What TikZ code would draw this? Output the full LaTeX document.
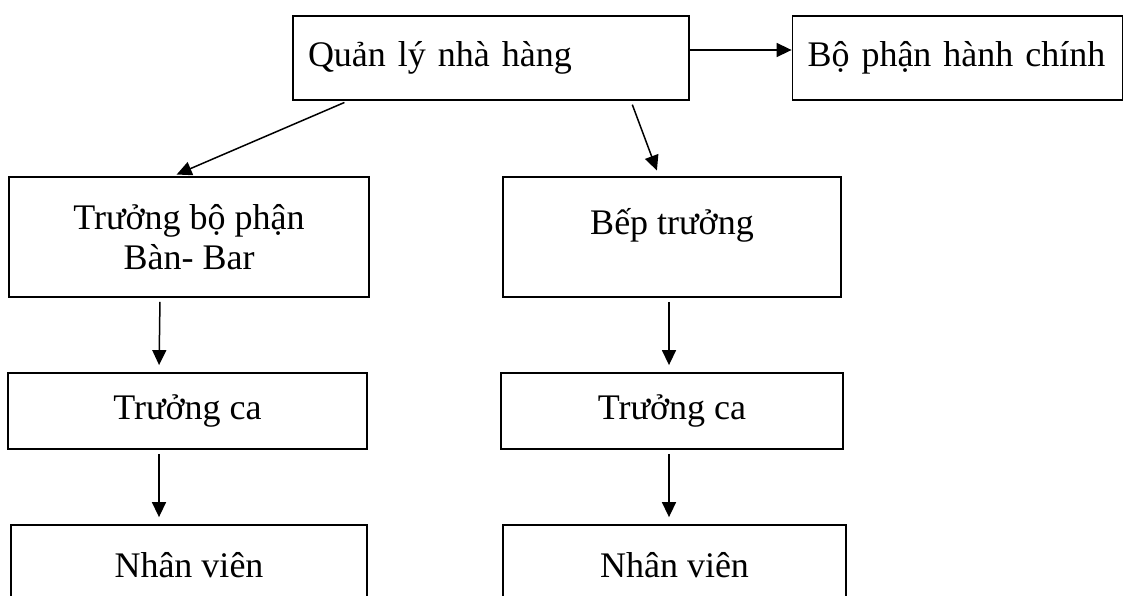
\documentclass[tikz,border=0pt]{standalone}
\usepackage{fontspec}
\setmainfont{Liberation Serif}
\usepackage{tikz}
\usetikzlibrary{arrows.meta}

\tikzset{
    box/.style={draw, line width=1.8pt, inner sep=0pt, font=\fontsize{36}{40}\selectfont},
    link/.style={line width=1.5pt, arrows={-Triangle[length=15pt, width=14pt]}}
}

\begin{document}
\begin{tikzpicture}[x=1pt, y=-1pt]
        % frame
        \useasboundingbox (0, 0) rectangle (1124, 596);
        % top row
        \node[box, text width=366pt, inner xsep=15pt, minimum height=84pt, align=left] (qly) at (491, 58) {Quản lý nhà hàng};
        \node[box, text width=300pt, inner xsep=15pt, minimum height=84pt, align=left] (bphc) at (957.5, 58) {\mbox{Bộ phận hành chính}};
        % second row
        \node[box, minimum width=360pt, minimum height=120pt, align=center] (tbp) at (189, 237) {Trưởng bộ phận\\Bàn- Bar};
        \node[box, minimum width=338pt, minimum height=120pt, align=center] (bt) at (672, 237) {Bếp trưởng\\[-20pt]\strut};
        % shift leaders
        \node[box, minimum width=359pt, minimum height=76pt] (tca1) at (187.5, 411) {Trưởng ca};
        \node[box, minimum width=342pt, minimum height=76pt] (tca2) at (672, 411) {Trưởng ca};
        % staff
        \node[box, minimum width=356pt, minimum height=80pt] (nv1) at (189, 565) {Nhân viên};
        \node[box, minimum width=343pt, minimum height=80pt] (nv2) at (674.5, 565) {Nhân viên};
        % arrows
        \draw[link] ([yshift=8pt]qly.east) -- ([yshift=8pt]bphc.west);
        \draw[link, shorten <=4pt, shorten >=4pt] ([xshift=56pt]qly.south west) -- ([xshift=-16pt]tbp.north);
        \draw[link, shorten <=4pt, shorten >=6pt] ([xshift=-59pt]qly.south east) -- ([xshift=-13pt]bt.north);
        \draw[link, shorten <=4pt, shorten >=7pt] ([xshift=-29pt]tbp.south) -- ([xshift=-28.5pt]tca1.north);
        \draw[link, shorten <=4pt, shorten >=7pt] ([xshift=-3pt]bt.south) -- ([xshift=-3pt]tca2.north);
        \draw[link, shorten <=4pt, shorten >=7pt] ([xshift=-28.5pt]tca1.south) -- ([xshift=-30pt]nv1.north);
        \draw[link, shorten <=4pt, shorten >=7pt] ([xshift=-3pt]tca2.south) -- ([xshift=-5.5pt]nv2.north);
    \end{tikzpicture}
\end{document}
